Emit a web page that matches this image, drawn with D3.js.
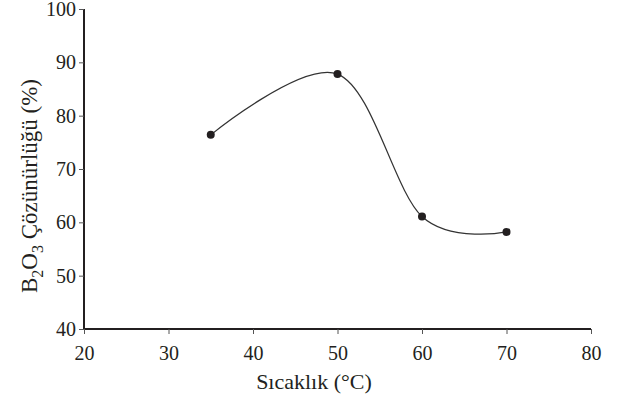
<!DOCTYPE html>
<html>
<head>
<meta charset="utf-8">
<script src="https://cdn.jsdelivr.net/npm/d3@7"></script>
</head>
<body style="margin:0">
<svg width="626" height="401"></svg>
<script>
const temps = [35, 50, 60, 70]
const solubility = [76.4, 87.8, 61.1, 58.2]
const xTicks = [20, 30, 40, 50, 60, 70, 80]
const yTicks = [40, 50, 60, 70, 80, 90, 100]

const serif = "'Liberation Serif', 'Times New Roman', Times"
const data = temps.map((t, i) => ({t: t, s: solubility[i]}))

const xScale = d3.scaleLinear().domain([20, 80]).range([84, 591])
const yScale = d3.scaleLinear().domain([40, 100]).range([329, 9])

const chart = d3.select('svg')

const xAxis = d3.axisBottom(xScale).tickValues(xTicks).tickSize(5).tickPadding(12)
const yAxis = d3.axisLeft(yScale).tickValues(yTicks).tickSize(5).tickPadding(3)

const xG = chart.append('g')
    .attr('transform', 'translate(0,329)')
    .call(xAxis)
xG.select('.domain').attr('d', 'M84,0H591').attr('stroke', '#231f20').attr('stroke-width', 2)

const yG = chart.append('g')
    .attr('transform', 'translate(84,0)')
    .call(yAxis)
yG.select('.domain').attr('d', 'M0,329V9').attr('stroke', '#231f20').attr('stroke-width', 2)

chart.selectAll('.tick line').attr('stroke', '#555').attr('stroke-width', 1)
chart.selectAll('.tick text')
    .style('font-family', serif)
    .style('font-size', '20px')
    .attr('fill', '#231f20')

chart.append('path')
    .datum(data)
    .attr('fill', 'none')
    .attr('stroke', '#333')
    .attr('stroke-width', 1.2)
    .attr('d', d3.line()
        .x(d => xScale(d.t))
        .y(d => yScale(d.s))
        .curve(d3.curveCatmullRom.alpha(0)))

chart.append('g')
    .selectAll('circle')
    .data(data)
    .enter()
    .append('circle')
    .attr('cx', d => xScale(d.t))
    .attr('cy', d => yScale(d.s))
    .attr('r', 4)
    .attr('fill', '#231f20')

// axis titles
chart.append('text')
    .attr('x', 314)
    .attr('y', 389)
    .attr('text-anchor', 'middle')
    .style('font-family', serif)
    .style('font-size', '22px')
    .attr('fill', '#231f20')
    .text('Sıcaklık (°C)')

const yTitle = chart.append('text')
    .attr('transform', 'translate(37,186) rotate(-90)')
    .attr('text-anchor', 'middle')
    .style('font-family', serif)
    .style('font-size', '23px')
    .attr('fill', '#231f20')
yTitle.append('tspan').text('B')
yTitle.append('tspan').attr('dy', 6).style('font-size', '16px').text('2')
yTitle.append('tspan').attr('dy', -6).text('O')
yTitle.append('tspan').attr('dy', 6).style('font-size', '16px').text('3')
yTitle.append('tspan').attr('dy', -6).text(' Çözünürlüğü (%)')
</script>
</body>
</html>
